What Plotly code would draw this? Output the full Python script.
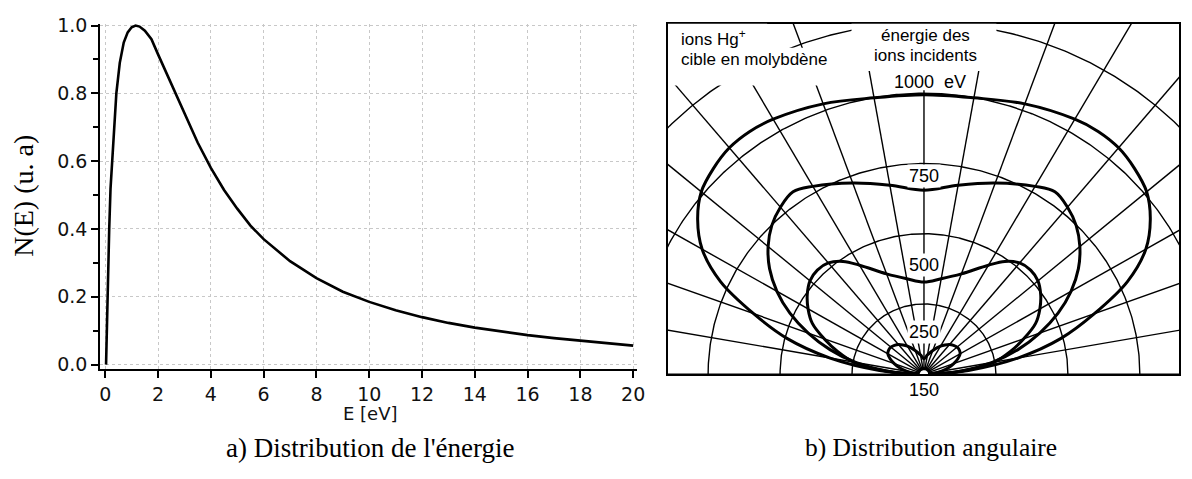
import numpy as np
import plotly.graph_objects as go

# ---------------- data: (a) energy distribution ----------------
E_EV = [0.03, 0.08, 0.15, 0.2, 0.27, 0.35, 0.42, 0.55, 0.7, 0.85, 1.0, 1.15, 1.3,
        1.5, 1.75, 2.0, 2.5, 3.0, 3.5, 4.0, 4.5, 5.0, 5.5, 6.0, 7.0, 8.0, 9.0,
        10, 11, 12, 13, 14, 15, 16, 17, 18, 19, 20]
N_E = [0.0, 0.2, 0.4, 0.52, 0.62, 0.72, 0.8, 0.89, 0.95, 0.98, 0.995, 1.0, 0.997,
       0.985, 0.96, 0.915, 0.83, 0.74, 0.655, 0.58, 0.515, 0.46, 0.41, 0.37, 0.305,
       0.255, 0.215, 0.185, 0.16, 0.14, 0.123, 0.109, 0.097, 0.087, 0.078, 0.07,
       0.062, 0.056]
X_TICKS = [0, 2, 4, 6, 8, 10, 12, 14, 16, 18, 20]
Y_TICKS = [0.0, 0.2, 0.4, 0.6, 0.8, 1.0]
Y_TICK_TEXT = ["0.0", "0.2", "0.4", "0.6", "0.8", "1.0"]

# ---------------- data: (b) angular distribution (polar, eV scale) ----------------
GRID_RADII = [250, 500, 750, 1000, 1250]
RADIAL_ANGLES = list(range(0, 181, 10))
LOBE_ANGLES = [90, 100, 110, 120, 125, 130, 135, 140, 145, 150, 155, 160, 165, 170, 175, 180]
LOBE_1000 = [995, 999, 1024, 1048, 1055, 1052, 1035, 1010, 960, 890, 780, 630, 493, 331, 155, 0]
LOBE_750 = [655, 683, 724, 772, 793, 776, 748, 707, 655, 590, 514, 428, 338, 241, 131, 0]
LOBE_500 = [328, 345, 380, 448, 490, 517, 524, 517, 495, 465, 428, 369, 310, 248, 138, 0]
LOBE_150 = [55, 70, 90, 115, 127, 138, 145, 150, 150, 145, 130, 110, 88, 62, 32, 0]
ORIGIN_R = 20
ENERGY_LABELS = ["750", "500", "250"]
ENERGY_LABEL_R = [705, 390, 150]

FONT_SANS = "Liberation Sans, Arial, sans-serif"
FONT_WIDE = "DejaVu Sans, Verdana, sans-serif"
FONT_SERIF = "Liberation Serif, Times New Roman, serif"

fig = go.Figure()

# ---- left panel ----
fig.add_trace(go.Scatter(x=E_EV, y=N_E, mode="lines",
                         line=dict(color="black", width=2.6),
                         xaxis="x", yaxis="y", showlegend=False, hoverinfo="skip"))

# ---- right panel ----
def pol(r, deg):
    t = np.deg2rad(np.asarray(deg, dtype=float))
    r = np.asarray(r, dtype=float)
    return r * np.cos(t), r * np.sin(t)

th = np.linspace(0, 180, 361)
gx, gy = [], []
for R in GRID_RADII:
    x, y = pol(np.full_like(th, R), th)
    gx += list(x) + [None]
    gy += list(y) + [None]
for a in RADIAL_ANGLES:
    x, y = pol([0, 2500], [a, a])
    gx += list(x) + [None]
    gy += list(y) + [None]
fig.add_trace(go.Scatter(x=gx, y=gy, mode="lines", line=dict(color="black", width=1.4),
                         xaxis="x2", yaxis="y2", showlegend=False, hoverinfo="skip"))

for lobe in [LOBE_1000, LOBE_750, LOBE_500, LOBE_150]:
    ang = list(LOBE_ANGLES[::-1]) + [180 - a for a in LOBE_ANGLES[1:]]
    rr = list(lobe[::-1]) + list(lobe[1:])
    x, y = pol(rr, ang)
    fig.add_trace(go.Scatter(x=x, y=y, mode="lines", line=dict(color="black", width=3.0),
                             line_shape="spline", xaxis="x2", yaxis="y2",
                             showlegend=False, hoverinfo="skip"))

ox, oy = pol(np.full(61, ORIGIN_R), np.linspace(0, 180, 61))
fig.add_trace(go.Scatter(x=ox, y=oy, mode="lines", fill="toself", fillcolor="white",
                         line=dict(color="black", width=3), xaxis="x2", yaxis="y2",
                         showlegend=False, hoverinfo="skip"))

def ux(px):
    return (px - 930) / 0.29

def uy(py):
    return (377 - py) / 0.29

masks = [(672, 842, 40, 79), (672, 772, 15, 40), (857, 1003, 15, 64), (892, 978, 64, 84)]
shapes = []
for x0, x1, y0, y1 in masks:
    shapes.append(dict(type="rect", xref="x2", yref="y2", x0=ux(x0), x1=ux(x1),
                       y0=uy(y1), y1=uy(y0), fillcolor="white", line=dict(width=0),
                       layer="above"))

W, H = 1192, 479
def px(x):
    return x / W

def py(y):
    return 1 - y / H

def ann(text, x, y, size, family=FONT_SANS, xanchor="center", color="black", **kw):
    d = dict(text=text, x=px(x), y=py(y), xref="paper", yref="paper",
             xanchor=xanchor, yanchor="middle", showarrow=False,
             font=dict(family=family, size=size, color=color))
    d.update(kw)
    return d

annotations = [
    ann("N(E) (u. a)", 23, 193, 28, FONT_SERIF, textangle=-90),
    ann("E [eV]", 372, 418, 18, FONT_WIDE, color="#111"),
    ann("a) Distribution de l'énergie", 372, 453, 27, FONT_SERIF),
    ann("b) Distribution angulaire", 937, 453, 25.5, FONT_SERIF),
    ann("ions Hg<sup>+</sup>", 683, 30, 17, xanchor="left"),
    ann("cible en molybdène", 683, 52, 17, xanchor="left"),
    ann("énergie des", 932, 27, 17),
    ann("ions incidents", 932, 48, 17),
    ann("1000  eV", 936, 75, 18),
]
for lab, r in zip(ENERGY_LABELS, ENERGY_LABEL_R):
    annotations.append(dict(text=lab, x=0, y=r, xref="x2", yref="y2", showarrow=False,
                            xanchor="center", yanchor="middle",
                            bgcolor="white", borderpad=1,
                            font=dict(family=FONT_SANS, size=18, color="black")))
annotations.append(dict(text="150", x=0, y=py(393), xref="x2", yref="paper", showarrow=False,
                        xanchor="center", yanchor="middle",
                        font=dict(family=FONT_SANS, size=18, color="black")))

tickfont = dict(family=FONT_WIDE, size=19, color="#111")
fig.update_layout(
    width=W, height=H, margin=dict(l=0, r=0, t=0, b=0),
    paper_bgcolor="white", plot_bgcolor="white",
    showlegend=False,
    xaxis=dict(domain=[px(100), px(641)], range=[-0.19, 20.15],
               tickvals=X_TICKS, ticks="outside", ticklen=7, tickwidth=1.5, tickcolor="black",
               showline=True, linecolor="black", linewidth=2,
               showgrid=True, gridcolor="#c8c8c8", griddash="dot", gridwidth=1,
               zeroline=False, tickfont=tickfont, anchor="y"),
    yaxis=dict(domain=[py(372), py(15)], range=[-0.014, 1.006],
               tickvals=Y_TICKS, ticktext=Y_TICK_TEXT, ticks="outside", ticklen=7,
               tickwidth=1.5, tickcolor="black",
               minor=dict(dtick=0.1, tick0=0, ticks="outside", ticklen=5, tickcolor="black",
                          showgrid=False),
               showline=True, linecolor="black", linewidth=2,
               showgrid=True, gridcolor="#c8c8c8", griddash="dot", gridwidth=1,
               zeroline=False, tickfont=tickfont, anchor="x"),
    xaxis2=dict(domain=[px(672), px(1187)], range=[ux(672), ux(1187)],
                showticklabels=False, ticks="", showgrid=False, zeroline=False,
                showline=True, mirror=True, linecolor="black", linewidth=2, anchor="y2"),
    yaxis2=dict(domain=[py(377), py(15)], range=[uy(377), uy(15)],
                showticklabels=False, ticks="", showgrid=False, zeroline=False,
                showline=True, mirror=True, linecolor="black", linewidth=2, anchor="x2"),
    shapes=shapes,
    annotations=annotations,
)

fig.write_html("out.html", config={"displayModeBar": False},
               post_script="document.body.style.margin='0';document.body.style.overflow='hidden';")
